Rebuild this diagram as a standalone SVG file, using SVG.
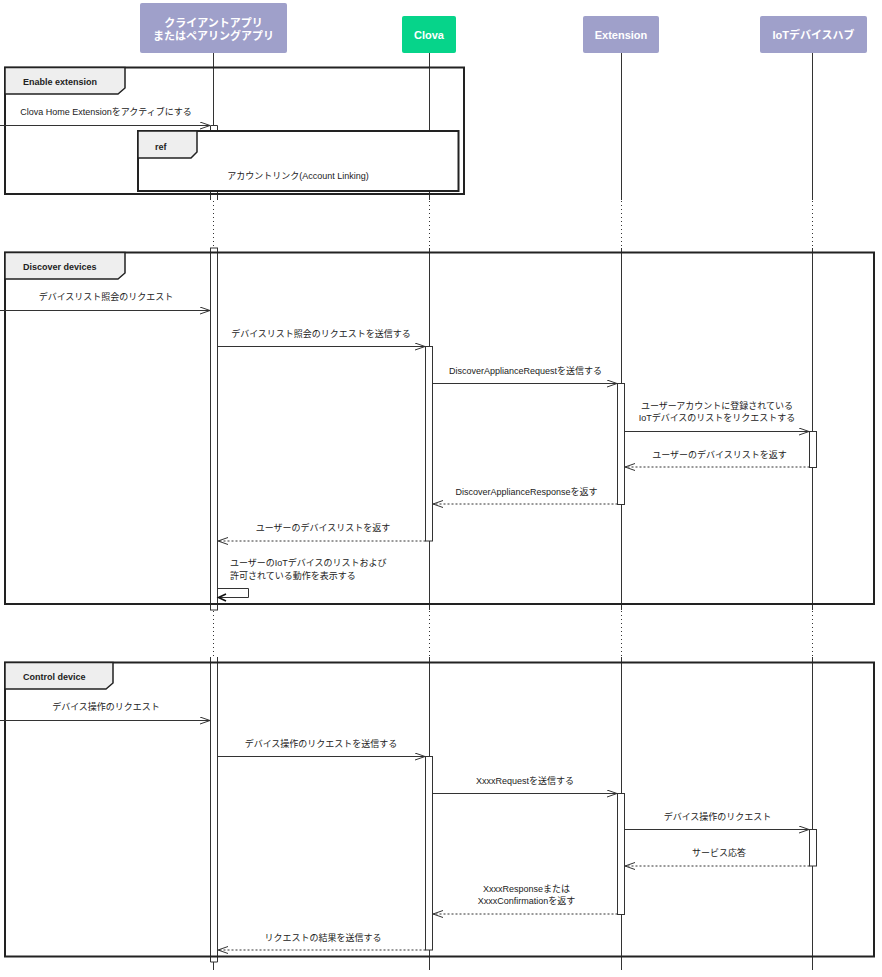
<svg xmlns="http://www.w3.org/2000/svg" width="882" height="977" viewBox="0 0 882 977">
<style>
.hdr{fill:#9fa0ca;}
.hdrc{fill:#06d48a;}
.ht{font-family:"Liberation Sans","Noto Sans CJK JP",sans-serif;font-size:11px;font-weight:bold;fill:#fff;text-anchor:middle;}
.t{font-family:"Liberation Sans","Noto Sans CJK JP",sans-serif;font-size:9px;fill:#222;text-anchor:middle;}
.tl{font-family:"Liberation Sans","Noto Sans CJK JP",sans-serif;font-size:9px;fill:#222;}
.ft{font-family:"Liberation Sans","Noto Sans CJK JP",sans-serif;font-size:9px;font-weight:bold;fill:#222;}
.ll{stroke:#333;stroke-width:1;fill:none;}
.dot{stroke:#333;stroke-width:1;fill:none;stroke-dasharray:1,3;}
.frame{fill:none;stroke:#222;stroke-width:2;}
.tab{fill:#eeeeee;stroke:#222;stroke-width:1.5;}
.act{fill:#fff;stroke:#333;stroke-width:1;}
.msg{stroke:#333;stroke-width:1;fill:none;marker-end:url(#open);}
.ret{stroke:#333;stroke-width:1;fill:none;stroke-dasharray:2,2;marker-end:url(#open);}
</style>
<defs>
<marker id="open" viewBox="0 0 10 8" refX="10" refY="4" markerWidth="10" markerHeight="8" markerUnits="userSpaceOnUse" orient="auto">
<path d="M0,0.5 L10,4 L0,7.5" fill="none" stroke="#333" stroke-width="1"/>
</marker>
</defs>

<g id="lifelines">
<path class="ll" d="M213.5,53 V200 M213.5,248 V610 M213.5,657 V970"/>
<path class="dot" d="M213.5,201 V248 M213.5,611 V657"/>
<path class="ll" d="M429.5,53 V200 M429.5,248 V610 M429.5,657 V970"/>
<path class="dot" d="M429.5,201 V248 M429.5,611 V657"/>
<path class="ll" d="M621.5,53 V200 M621.5,248 V610 M621.5,657 V970"/>
<path class="dot" d="M621.5,201 V248 M621.5,611 V657"/>
<path class="ll" d="M812.5,53 V200 M812.5,248 V610 M812.5,657 V970"/>
<path class="dot" d="M812.5,201 V248 M812.5,611 V657"/>
</g>

<g id="client">
<rect class="hdr" x="140" y="3" width="147" height="50" rx="2"/>
<text class="ht" x="213.5" y="26.5">クライアントアプリ</text>
<text class="ht" x="213.5" y="39.5">またはペアリングアプリ</text>
</g>
<g id="clova">
<rect class="hdrc" x="402" y="16" width="54" height="37" rx="2"/>
<text class="ht" x="429" y="39">Clova</text>
</g>
<g id="extension">
<rect class="hdr" x="583" y="16" width="76" height="37" rx="2"/>
<text class="ht" x="621" y="39">Extension</text>
</g>
<g id="iothub">
<rect class="hdr" x="760" y="16" width="107" height="37" rx="2"/>
<text class="ht" x="813.5" y="39">IoTデバイスハブ</text>
</g>

<g id="activations">
<path class="act" d="M210.5,200 V125.5 H217.5 V200"/>
<rect class="act" x="210.5" y="248" width="7" height="362" stroke="none"/>
<path class="ll" d="M210.5,248 V610 M217.5,248 V610"/>
<path class="act" d="M210.5,657 V962 H217.5 V657"/>
<rect class="act" x="425.5" y="346.5" width="7" height="194.5"/>
<rect class="act" x="617.5" y="383.5" width="7" height="121"/>
<rect class="act" x="809.5" y="431.5" width="7" height="36"/>
<rect class="act" x="425.5" y="756.5" width="7" height="193.5"/>
<rect class="act" x="617.5" y="793.5" width="7" height="121"/>
<rect class="act" x="809.5" y="829.5" width="7" height="36.5"/>
</g>

<g id="frame-enable">
<rect class="frame" x="5" y="67.5" width="459" height="126.5"/>
<path class="tab" d="M5,67.5 H125 V88 L118,94 H5 Z"/>
<text class="ft" x="23" y="85">Enable extension</text>
</g>
<g id="ref-account-linking">
<rect x="138" y="131" width="320.5" height="60" fill="#fff" stroke="#222" stroke-width="2"/>
<path class="tab" d="M138,131 H197 V152 L191,158 H138 Z"/>
<text class="ft" x="155" y="150">ref</text>
<text class="t" x="298" y="179">アカウントリンク(Account Linking)</text>
</g>
<g id="frame-discover">
<rect class="frame" x="5" y="252.5" width="869" height="351.5"/>
<path class="tab" d="M5,252.5 H125 V273 L118,279 H5 Z"/>
<text class="ft" x="23" y="270">Discover devices</text>
</g>
<g id="frame-control">
<rect class="frame" x="5" y="662.5" width="869" height="294"/>
<path class="tab" d="M5,662.5 H113 V683 L106,689 H5 Z"/>
<text class="ft" x="23" y="680">Control device</text>
</g>

<g id="connectors">
<path class="msg" d="M0,125.5 H210"/>
<path class="msg" d="M0,310.5 H210"/>
<path class="msg" d="M217.5,346.5 H425"/>
<path class="msg" d="M432.5,383.5 H617"/>
<path class="msg" d="M624.5,431.5 H809"/>
<path class="ret" d="M809.5,467 H625"/>
<path class="ret" d="M617.5,504 H433"/>
<path class="ret" d="M425.5,541 H218"/>
<path class="ll" d="M217.5,588.5 H248.5 V597.5 H219"/>
<path d="M226,594 L218.5,597.5 L226,601" fill="none" stroke="#111" stroke-width="1.6"/>
<path class="msg" d="M0,720.5 H210"/>
<path class="msg" d="M217.5,756.5 H425"/>
<path class="msg" d="M432.5,793.5 H617"/>
<path class="msg" d="M624.5,829.5 H809"/>
<path class="ret" d="M809.5,866 H625"/>
<path class="ret" d="M617.5,914 H433"/>
<path class="ret" d="M425.5,950 H218"/>
</g>

<g id="labels">
<text class="t" x="106" y="114.5">Clova Home Extensionをアクティブにする</text>
<text class="t" x="106" y="300">デバイスリスト照会のリクエスト</text>
<text class="t" x="321" y="336.5">デバイスリスト照会のリクエストを送信する</text>
<text class="t" x="525.5" y="373.5">DiscoverApplianceRequestを送信する</text>
<text class="t" x="717" y="408.5">ユーザーアカウントに登録されている</text>
<text class="t" x="717" y="420.5">IoTデバイスのリストをリクエストする</text>
<text class="t" x="719.5" y="457.5">ユーザーのデバイスリストを返す</text>
<text class="t" x="526.5" y="495">DiscoverApplianceResponseを返す</text>
<text class="t" x="323" y="530.5">ユーザーのデバイスリストを返す</text>
<text class="tl" x="230" y="566">ユーザーのIoTデバイスのリストおよび</text>
<text class="tl" x="230" y="579">許可されている動作を表示する</text>
<text class="t" x="106" y="710">デバイス操作のリクエスト</text>
<text class="t" x="321" y="746.5">デバイス操作のリクエストを送信する</text>
<text class="t" x="525" y="783.5">XxxxRequestを送信する</text>
<text class="t" x="717.5" y="819.5">デバイス操作のリクエスト</text>
<text class="t" x="719" y="856">サービス応答</text>
<text class="t" x="526.5" y="891.5">XxxxResponseまたは</text>
<text class="t" x="526.5" y="903.5">XxxxConfirmationを返す</text>
<text class="t" x="323" y="940.5">リクエストの結果を送信する</text>
</g>
</svg>
